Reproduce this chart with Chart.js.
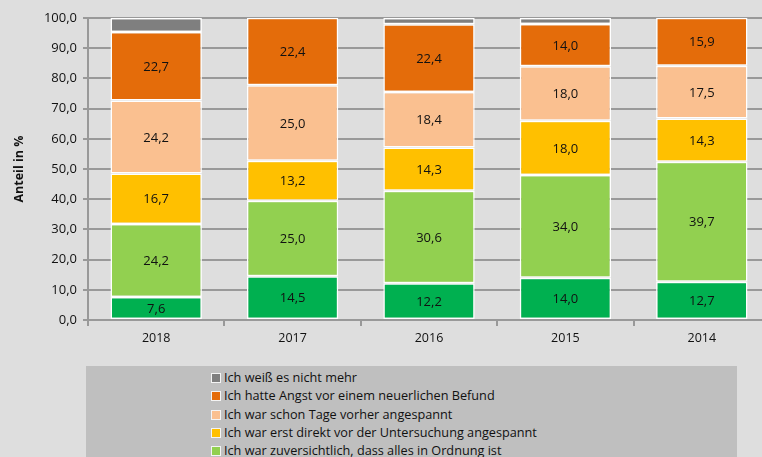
<!DOCTYPE html>
<html>
<head>
<meta charset="utf-8">
<script src="https://cdn.jsdelivr.net/npm/chart.js@4"></script>
<style>
  body { margin: 0; background: #dedede; overflow: hidden; width: 762px; height: 457px; position: relative; }
  #wrap { position: absolute; left: 0; top: 0; width: 770px; height: 360px; }
  #legend { position: absolute; left: 86px; top: 366px; width: 651px; height: 100px; background: #bfbfbf; overflow: hidden;
    font-family: "Open Sans", sans-serif; font-size: 12.7px; color: #111; }
  #legend ul { list-style: none; margin: 0; padding: 2px 0 0 125px; }
  #legend li { height: 18.3px; line-height: 18px; white-space: nowrap; }
  #legend span.box { display: inline-block; width: 8px; height: 8px; border: 1px solid #f4f4f4; margin-right: 3px; vertical-align: -1px; }
</style>
</head>
<body>
<div id="wrap"><canvas id="myChart" width="770" height="360"></canvas></div>
<div id="legend"><ul id="legendList"></ul></div>
<script>
// Chart data
const years = ['2018', '2017', '2016', '2015', '2014'];
const entspannt = [7.6, 14.5, 12.2, 14.0, 12.7];
const zuversichtlich = [24.2, 25.0, 30.6, 34.0, 39.7];
const direktVorher = [16.7, 13.2, 14.3, 18.0, 14.3];
const tageVorher = [24.2, 25.0, 18.4, 18.0, 17.5];
const angstBefund = [22.7, 22.4, 22.4, 14.0, 15.9];
const weissNicht = [4.6, null, 2.1, 2.0, null];
const yTicks = [0, 10, 20, 30, 40, 50, 60, 70, 80, 90, 100];

const fmt = v => v.toFixed(1).replace('.', ',');
const FONT = '"Open Sans", sans-serif';

// Draw the values inside the bars
const barLabels = {
  id: 'barLabels',
  afterDatasetsDraw(chart) {
    const ctx = chart.ctx;
    ctx.save();
    ctx.font = '13px ' + FONT;
    ctx.fillStyle = '#111';
    ctx.textAlign = 'center';
    ctx.textBaseline = 'middle';
    chart.data.datasets.forEach((ds, i) => {
      if (ds.noLabel) return;
      chart.getDatasetMeta(i).data.forEach((bar, j) => {
        if (ds.data[j] == null) return;
        ctx.fillText(fmt(ds.data[j]), bar.x, (bar.y + bar.base) / 2 + 1);
      });
    });
    ctx.restore();
  }
};

const ctx = document.getElementById('myChart').getContext('2d');
const myChart = new Chart(ctx, {
  type: 'bar',
  data: {
    labels: years,
    datasets: [
      { label: 'Ich war ganz entspannt', data: entspannt, backgroundColor: '#00b050' },
      { label: 'Ich war zuversichtlich, dass alles in Ordnung ist', data: zuversichtlich, backgroundColor: '#92d050' },
      { label: 'Ich war erst direkt vor der Untersuchung angespannt', data: direktVorher, backgroundColor: '#ffc000' },
      { label: 'Ich war schon Tage vorher angespannt', data: tageVorher, backgroundColor: '#fac090' },
      { label: 'Ich hatte Angst vor einem neuerlichen Befund', data: angstBefund, backgroundColor: '#e46c0a' },
      { label: 'Ich weiß es nicht mehr', data: weissNicht, backgroundColor: '#7f7f7f', noLabel: true }
    ].map(d => Object.assign(d, {
      borderColor: '#ffffff', borderWidth: 1.5, borderSkipped: false,
      barPercentage: 0.67, categoryPercentage: 1
    }))
  },
  options: {
    responsive: false,
    animation: false,
    layout: { padding: { top: 18, right: 0, bottom: 0, left: 0 } },
    plugins: { legend: { display: false }, tooltip: { enabled: false } },
    scales: {
      x: {
        stacked: true,
        grid: { display: true, drawOnChartArea: false, offset: true, color: '#999', lineWidth: 2, tickLength: 6 },
        border: { color: '#999', width: 2 },
        ticks: { color: '#111', font: { family: FONT, size: 12.5 }, padding: 5 },
        afterFit(scale) { scale.height = 40; }
      },
      y: {
        stacked: true,
        min: 0, max: 100,
        afterBuildTicks(scale) { scale.ticks = yTicks.map(v => ({ value: v })); },
        grid: { color: '#999', lineWidth: 2, tickLength: 5 },
        border: { color: '#999', width: 2 },
        ticks: { color: '#111', font: { family: FONT, size: 13 }, padding: 6, callback: v => fmt(v) },
        title: { display: true, text: 'Anteil in %', color: '#111', font: { family: FONT, size: 12.5, weight: 'bold' }, padding: { top: 12, bottom: 0 } },
        afterFit(scale) { scale.width = 88; }
      }
    }
  },
  plugins: [barLabels]
});

// Legend (reverse order, like the original)
const list = document.getElementById('legendList');
myChart.data.datasets.slice().reverse().forEach(ds => {
  const li = document.createElement('li');
  li.innerHTML = '<span class="box" style="background:' + ds.backgroundColor + '"></span>' + ds.label;
  list.appendChild(li);
});
</script>
</body>
</html>
